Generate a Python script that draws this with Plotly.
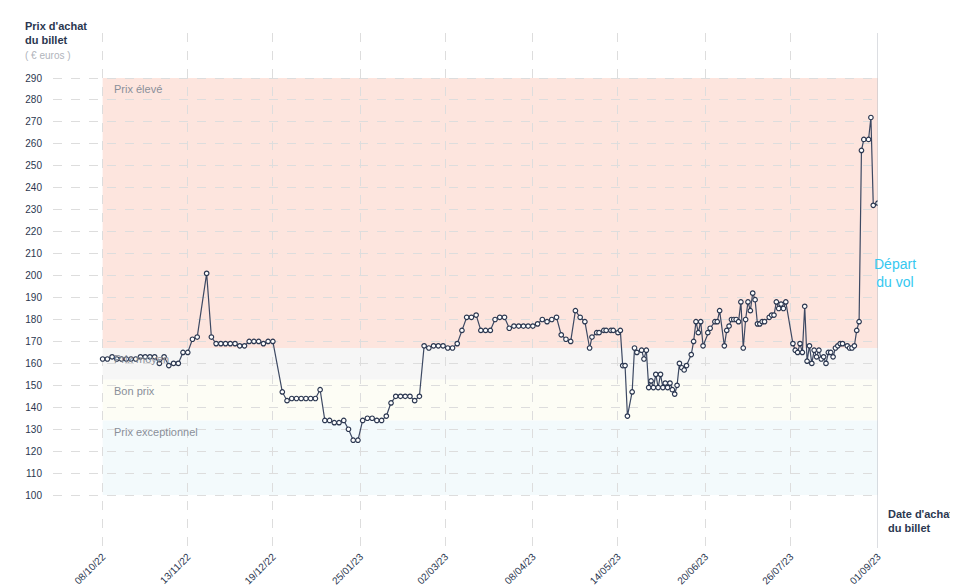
import plotly.graph_objects as go
import datetime as dt

start = dt.date(2022, 10, 8)
end = dt.date(2023, 9, 1)

day_offsets = [0,2,4,6,8,10,12,14,16,18,20,22,24,26,28,30,32,34,36,38,40,44,46,48,50,52,54,56,58,60,62,64,66,68,70,72,
 76,78,80,82,84,86,88,90,92,94,96,98,100,102,104,106,108,110,112,114,116,118,120,122,124,126,128,130,132,134,
 136,138,140,142,144,146,148,150,152,154,156,158,160,162,164,166,168,170,172,174,176,178,180,182,184,186,188,190,192,194,196,198,
 200,202,204,206,207,209,210,212,213,215,216,218,219,220,221,222,224,225,226,228,229,230,231,232,233,234,235,236,237,238,239,240,241,242,
 243,244,245,246,247,249,250,251,252,253,254,256,257,259,260,261,263,264,265,266,267,268,269,270,271,272,273,274,275,276,
 277,278,279,280,282,283,284,285,286,287,288,289,292,293,294,295,296,297,298,299,300,301,302,303,304,305,306,307,308,309,310,311,312,313,315,316,317,318,319,320,321,322,324,325,326,328]
prices = [162,162,163,162,162,162,162,162,163,163,163,163,160,163,159,160,160,165,165,171,172,201,172,169,169,169,169,169,168,168,170,170,170,169,170,170,
 147,143,144,144,144,144,144,144,148,134,134,133,133,134,130,125,125,134,135,135,134,134,136,142,145,145,145,145,143,145,
 168,167,168,168,168,167,167,169,175,181,181,182,175,175,175,180,181,181,176,177,177,177,177,177,178,180,179,180,181,173,171,170,
 184,181,179,167,172,174,174,175,175,175,175,174,175,159,159,136,147,167,165,166,162,166,149,152,149,155,149,155,149,151,149,151,148,146,
 150,160,158,157,159,164,170,179,174,179,168,174,176,179,179,184,168,175,177,180,180,180,179,188,167,180,188,184,192,189,
 178,178,179,179,181,182,182,188,185,187,185,188,169,166,165,169,165,186,161,168,160,166,163,166,162,163,160,165,165,163,167,168,169,169,168,167,167,168,175,179,257,262,262,272,232,233]

zones = [("Prix élevé", 167, 290, "rgba(253,226,218,0.9)"),
         ("Prix moyen", 152.5, 167, "rgba(246,246,246,1)"),
         ("Bon prix", 134, 152.5, "rgba(253,253,245,1)"),
         ("Prix exceptionnel", 100, 134, "rgba(243,250,252,1)")]
tick_dates = ["2022-10-08","2022-11-13","2022-12-19","2023-01-25","2023-03-02","2023-04-08","2023-05-14","2023-06-20","2023-07-26","2023-09-01"]
tick_labels = ["08/10/22","13/11/22","19/12/22","25/01/23","02/03/23","08/04/23","14/05/23","20/06/23","26/07/23","01/09/23"]
y_ticks = list(range(100, 291, 10))

dates = [start + dt.timedelta(days=d) for d in day_offsets]
navy = "#2b3750"

fig = go.Figure()
for name, lo, hi, col in zones:
    fig.add_shape(type="rect", xref="x", yref="y", x0=start, x1=end, y0=lo, y1=hi,
                  fillcolor=col, line_width=0, layer="below")
    fig.add_annotation(x=start + dt.timedelta(days=4), y=hi - 1.5, text=name, showarrow=False,
                       xanchor="left", yanchor="top", font=dict(size=11, color="#8a8f99"))

fig.add_trace(go.Scatter(x=dates, y=prices, mode="lines+markers",
                         line=dict(color="#3d4963", width=1.2),
                         marker=dict(size=4.5, color="white", line=dict(color=navy, width=1.2))))

fig.add_shape(type="line", xref="x", yref="paper", x0=end, x1=end, y0=0, y1=1,
              line=dict(color="#b8bcc4", width=1))

fig.update_xaxes(range=[start - dt.timedelta(days=21), end], tickvals=tick_dates, ticktext=tick_labels,
                 tickangle=-45, showgrid=True, gridcolor="#dddddd", griddash="dash", zeroline=False,
                 tickfont=dict(size=10, color=navy, family="Liberation Sans"), showline=False,
                 automargin=False)
fig.update_yaxes(range=[75.9, 310.5], tickvals=y_ticks, showgrid=True, gridcolor="#dddddd", griddash="dash",
                 zeroline=False, tickfont=dict(size=10, color=navy, family="Liberation Sans"),
                 ticklabelstandoff=10, automargin=False)

fig.add_annotation(xref="paper", yref="paper", x=-0.036, y=1.03, xanchor="left", yanchor="top",
                   text="<b>Prix d'achat<br>du billet</b>", showarrow=False, align="left",
                   font=dict(size=11, color=navy))
fig.add_annotation(xref="paper", yref="paper", x=-0.036, y=0.957, xanchor="left", yanchor="middle",
                   text="( € euros )", showarrow=False, font=dict(size=10, color="#b0b4bb"))
fig.add_annotation(xref="paper", yref="y", x=1.048, y=201, text="Départ<br>du vol", showarrow=False,
                   align="center", font=dict(size=14, color="#35c8f0"))
fig.add_annotation(xref="paper", yref="y", x=1.01, y=88, xanchor="left", text="<b>Date d'achat<br>du billet</b>",
                   showarrow=False, align="left", font=dict(size=11, color=navy))

fig.update_layout(width=958, height=585, margin=dict(l=45, r=88, t=25, b=45, autoexpand=False),
                  plot_bgcolor="white", paper_bgcolor="white", showlegend=False,
                  font=dict(family="Liberation Sans"))
fig.write_html("out.html")
